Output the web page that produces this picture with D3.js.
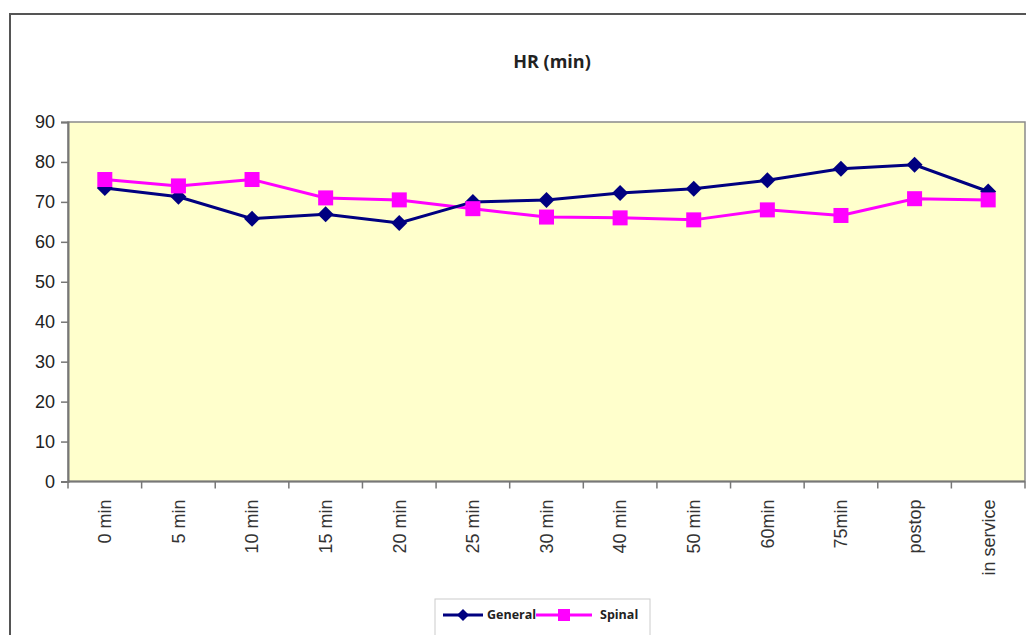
<!DOCTYPE html>
<html>
<head>
<meta charset="utf-8">
<script src="https://cdn.jsdelivr.net/npm/d3@7/dist/d3.min.js"></script>
<style>
  html, body { margin: 0; padding: 0; background: #fff; }
  svg { display: block; }
</style>
</head>
<body>
<svg id="chart" width="1026" height="635"></svg>
<script>
// Heart rate by time point, two anaesthesia groups
const categories = ["0 min", "5 min", "10 min", "15 min", "20 min", "25 min", "30 min",
                    "40 min", "50 min", "60min", "75min", "postop", "in service"];
const general = [73.5, 71.3, 65.8, 66.9, 64.7, 70.0, 70.5, 72.2, 73.3, 75.4, 78.3, 79.3, 72.6];
const spinal  = [75.6, 74.0, 75.6, 71.0, 70.5, 68.3, 66.2, 66.0, 65.5, 68.0, 66.6, 70.8, 70.5];
const yTicks  = [0, 10, 20, 30, 40, 50, 60, 70, 80, 90];
const seriesNames = ["General", "Spinal"];

const svg = d3.select("#chart");
const plot = { left: 68, right: 1025, top: 122, bottom: 481.5 };

// outer chart frame (runs off the right and bottom edges)
svg.append("rect")
  .attr("x", 10).attr("y", 14)
  .attr("width", 1040).attr("height", 660)
  .attr("fill", "#fff").attr("stroke", "#555").attr("stroke-width", 2);

// title
svg.append("text")
  .attr("x", 552).attr("y", 68)
  .attr("text-anchor", "middle")
  .attr("font-family", "'Open Sans', sans-serif")
  .attr("font-weight", 700)
  .attr("font-size", 18)
  .attr("fill", "#222")
  .text("HR (min)");

const x = d3.scaleBand().domain(categories).range([plot.left, plot.right]);
const y = d3.scaleLinear().domain([0, 90]).range([plot.bottom, plot.top]);
const cx = c => x(c) + x.bandwidth() / 2;

// plot area
svg.append("rect")
  .attr("x", plot.left).attr("y", plot.top)
  .attr("width", plot.right - plot.left).attr("height", plot.bottom - plot.top)
  .attr("fill", "#FFFFCC").attr("stroke", "#8a8a8a").attr("stroke-width", 1.5);

// y axis
const yAxis = d3.axisLeft(y).tickValues(yTicks).tickSize(7).tickPadding(6);
const gy = svg.append("g").attr("transform", `translate(${plot.left},0)`).call(yAxis);
gy.select(".domain").attr("stroke", "#777").attr("stroke-width", 2);
gy.selectAll(".tick line").attr("stroke", "#777").attr("stroke-width", 1.5);
gy.selectAll(".tick text")
  .attr("font-family", "'Liberation Sans', Arial, sans-serif")
  .attr("font-size", 18).attr("fill", "#222");

// x axis: ticks sit between categories
const gx = svg.append("g").attr("transform", `translate(0,${plot.bottom})`);
gx.append("line")
  .attr("x1", plot.left).attr("x2", plot.right)
  .attr("stroke", "#777").attr("stroke-width", 2);
const edges = categories.map(c => x(c)).concat([x.range()[1]]);
gx.selectAll("line.tk").data(edges).join("line")
  .attr("class", "tk")
  .attr("x1", d => d).attr("x2", d => d)
  .attr("y1", 0).attr("y2", 7)
  .attr("stroke", "#777").attr("stroke-width", 1.5);
gx.selectAll("text").data(categories).join("text")
  .attr("transform", d => `translate(${cx(d)},18) rotate(-90)`)
  .attr("text-anchor", "end")
  .attr("dy", "0.35em")
  .attr("font-family", "'Liberation Sans', Arial, sans-serif")
  .attr("font-size", 18).attr("fill", "#333")
  .text(d => d);

// series
const line = d3.line().x((d, i) => cx(categories[i])).y(d => y(d));
const colors = { General: "#000080", Spinal: "#FF00FF" };

svg.append("path").datum(spinal)
  .attr("d", line).attr("fill", "none")
  .attr("stroke", colors.Spinal).attr("stroke-width", 3);
svg.append("path").datum(general)
  .attr("d", line).attr("fill", "none")
  .attr("stroke", colors.General).attr("stroke-width", 3);

// square-on-point diamond marker of half-diagonal r
const diamondPath = r => `M0,${-r}L${r},0L0,${r}L${-r},0Z`;

svg.selectAll("path.gen").data(general).join("path")
  .attr("class", "gen")
  .attr("d", diamondPath(8))
  .attr("transform", (d, i) => `translate(${cx(categories[i])},${y(d)})`)
  .attr("fill", colors.General);

svg.selectAll("rect.spi").data(spinal).join("rect")
  .attr("class", "spi")
  .attr("x", (d, i) => cx(categories[i]) - 7.5)
  .attr("y", d => y(d) - 7.5)
  .attr("width", 15).attr("height", 15)
  .attr("fill", colors.Spinal);

// legend
const lg = svg.append("g");
lg.append("rect")
  .attr("x", 435).attr("y", 599).attr("width", 215).attr("height", 45)
  .attr("fill", "#fff").attr("stroke", "#ccc").attr("stroke-width", 1);
const ly = 615;
const legendItems = [
  { name: seriesNames[0], x0: 443, x1: 483, tx: 487 },
  { name: seriesNames[1], x0: 536, x1: 592, tx: 600 }
];
legendItems.forEach(it => {
  lg.append("line")
    .attr("x1", it.x0).attr("x2", it.x1).attr("y1", ly).attr("y2", ly)
    .attr("stroke", colors[it.name]).attr("stroke-width", 3);
  const mx = (it.x0 + it.x1) / 2;
  if (it.name === "General") {
    lg.append("path").attr("d", diamondPath(6))
      .attr("transform", `translate(${mx},${ly})`).attr("fill", colors.General);
  } else {
    lg.append("rect").attr("x", mx - 6).attr("y", ly - 6)
      .attr("width", 12).attr("height", 12).attr("fill", colors.Spinal);
  }
  lg.append("text")
    .attr("x", it.tx).attr("y", ly).attr("dy", "0.35em")
    .attr("font-family", "'Open Sans', sans-serif")
    .attr("font-weight", 700).attr("font-size", 12.5).attr("fill", "#222")
    .text(it.name);
});
</script>
</body>
</html>
